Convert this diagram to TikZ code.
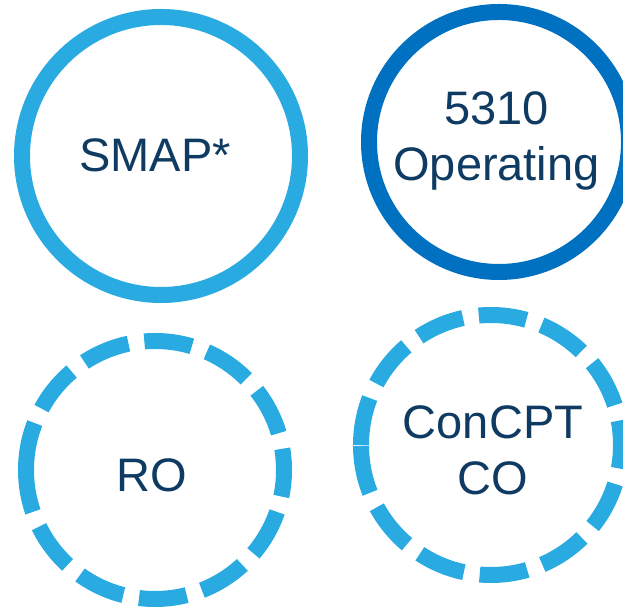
\documentclass[tikz,border=0pt]{standalone}
\usepackage{fontspec}
\setmainfont{Liberation Sans}
\definecolor{lightblue}{HTML}{29ABE2}
\definecolor{darkblue}{HTML}{0070C0}
\definecolor{navytext}{HTML}{0F3B63}
\begin{document}
\begin{tikzpicture}[x=1pt,y=1pt,
  ringlight/.style={draw=lightblue, line width=16pt},
  ringdark/.style={draw=darkblue, line width=16pt},
  ringdash/.style={draw=lightblue, line width=16pt, dash pattern=on 48pt off 16pt},
  lbl/.style={text=navytext, font=\fontsize{47}{56}\selectfont, align=center, inner sep=0pt}]
\useasboundingbox (0,0) rectangle (623,609);
\clip (0,0) rectangle (623,609);
\coordinate (c1) at (161,453);
\coordinate (c2) at (499,467);
\coordinate (c3) at (155,139);
\coordinate (c4) at (491,164);
\draw[ringlight] (c1) circle[radius=139pt];
\draw[ringdark] (c2) circle[radius=130pt];
\draw[ringdash] (c3) ++(180:129pt) arc[start angle=180, end angle=-180, radius=129pt];
\draw[ringdash] (c4) ++(180:130pt) arc[start angle=180, end angle=-180, radius=130pt];
\node[lbl, anchor=base] (smap) at (155,437) {SMAP*};
\node[lbl] (op) at (496.5,468.3) {5310\\Operating};
\node[lbl, anchor=base] (ro) at (152,117) {RO};
\node[lbl] (con) at (493,159) {ConCPT\\CO};
\end{tikzpicture}
\end{document}
